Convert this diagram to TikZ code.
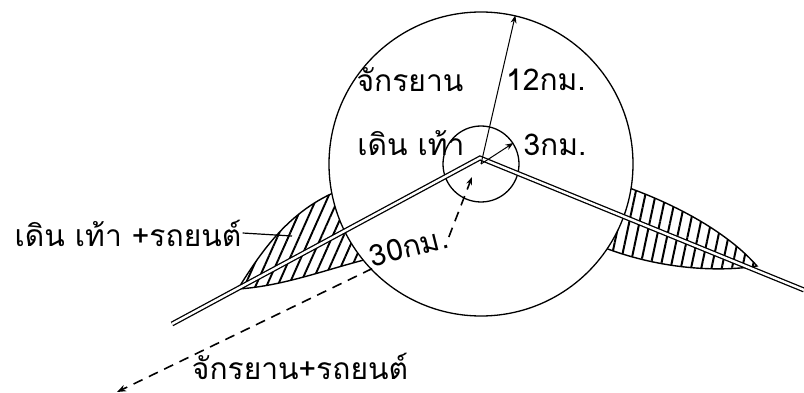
\documentclass[tikz,border=0pt]{standalone}
\usepackage{fontspec}
\newfontfamily\thaifont[Script=Thai]{Loma}
\usetikzlibrary{arrows.meta, positioning, patterns.meta, calc}

\begin{document}
\begin{tikzpicture}[x=1pt, y=-1pt,
    lbl/.style={font=\thaifont\fontsize{30}{32}\selectfont, inner sep=1pt},
    road/.style={double, line width=1.3pt, double distance=2.4pt},
    zone/.style={circle, draw, line width=1.3pt, inner sep=0pt},
    hatchL/.style={draw, line width=1.4pt, pattern={Lines[angle=66, distance=10pt, line width=1.9pt]}},
    hatchR/.style={draw, line width=1.4pt, pattern={Lines[angle=78, distance=10pt, line width=2pt]}},
    trip/.style={line width=1.6pt, dash pattern=on 10pt off 7pt}]
  \useasboundingbox (0,0) rectangle (804,393);

  % hatched car zones, outside the big circle
  \draw[hatchL] (238,289) .. controls (262,250) and (290,210) .. (340,190)
    -- (372,258) .. controls (330,268) and (285,286) .. (238,289) -- cycle;
  \draw[hatchR] (618,184) .. controls (680,205) and (730,235) .. (757,266)
    .. controls (720,272) and (660,270) .. (600,246) -- cycle;

  % zones
  \coordinate (c) at (481,164);
  \node[zone, fill=white, minimum size=304pt] (big) at (c) {};
  \node[zone, minimum size=76pt] (small) at (c) {};

  % road
  \coordinate (v) at (480,158);
  \coordinate (rl) at (172,324);
  \coordinate (rr) at (804,290);
  \draw[road] (rl) -- (v) -- (rr);

  % radii
  \draw[line width=1pt, -{Stealth[length=8pt]}] (c) -- (big.77);
  \draw[line width=1pt, -{Stealth[length=8pt]}] (c) -- (small.33);

  % labels
  \node[lbl] (bike) at (410,80) {จักรยาน};
  \node[lbl] (d12) at (546,80) {12กม.};
  \node[lbl] (walk) at (411,143) {เดิน เท้า};
  \node[lbl] (d3) at (555,145) {3กม.};
  \node[lbl, rotate=14] (d30) at (409,247) {30กม.};
  \node[lbl] (bikecar) at (300,366) {จักรยาน+รถยนต์};
  \node[lbl] (walkcar) at (128,233) {เดิน เท้า +รถยนต์};

  \coordinate (lz) at (292,236);
  \draw[line width=1.2pt] (walkcar.east) -- (lz);

  % 30 km trip
  \coordinate (p30) at (472,177);
  \coordinate (far) at (117,392);
  \draw[trip, -{Stealth[length=8pt]}] (d30.east) -- (p30);
  \draw[trip, -{Stealth[length=9pt]}] (d30.south west) -- (far);
\end{tikzpicture}
\end{document}
